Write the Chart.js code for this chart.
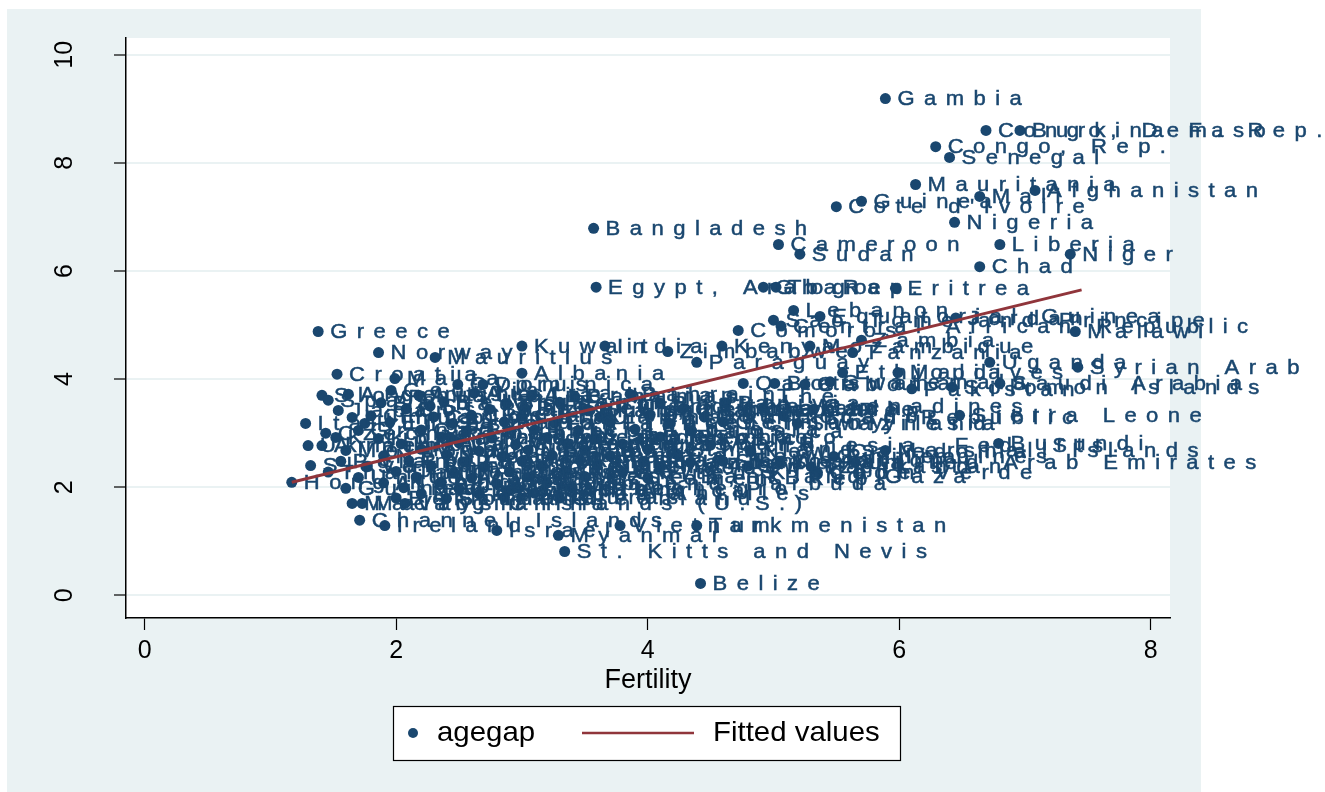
<!DOCTYPE html>
<html>
<head>
<meta charset="utf-8">
<script src="https://cdn.jsdelivr.net/npm/chart.js@4.4.1/dist/chart.umd.min.js"></script>
<style>
  html, body { margin: 0; padding: 0; background: #fff; }
</style>
</head>
<body>
<canvas id="chart" width="1325" height="792"></canvas>
<script>
// data
const countries = [
  "Gambia", "Congo, Dem. Rep.", "Burkina Faso", "Congo, Rep.", "Senegal", "Mauritania", "Afghanistan", "Mali", "Guinea", "Cote d'Ivoire",
  "Nigeria", "Bangladesh", "Cameroon", "Liberia", "Sudan", "Niger", "Chad", "Egypt, Arab Rep.", "Ghana", "Togo",
  "Eritrea", "Lebanon", "Sao Tome and Principe", "Equatorial Guinea", "Jordan", "Central African Republic", "Comoros", "Malawi", "Kenya", "Zimbabwe",
  "Kuwait", "India", "Mozambique", "Zambia", "Tanzania", "Paraguay", "Mauritius", "Norway", "Greece", "Croatia",
  "Albania", "Uganda", "Syrian Arab Republic", "Saudi Arabia", "Solomon Islands", "Ethiopia", "Maldives", "Qatar", "Botswana", "Gabon",
  "Guatemala", "Pakistan", "St. Vincent and the Grenadines", "Iran, Islamic Rep.", "Sierra Leone", "Swaziland", "Trinidad and Tobago", "Burundi", "Marshall Islands", "United Arab Emirates",
  "Cape Verde", "Uzbekistan", "Belize", "St. Kitts and Nevis", "Myanmar", "Turkmenistan", "Vietnam", "Israel", "Ireland", "Channel Islands",
  "Macao, China", "Malaysia", "South Africa", "Virgin Islands (U.S.)", "Hong Kong, China", "Italy", "Hungary", "Czech Republic", "Slovenia", "Spain",
  "Japan", "Malta", "Cyprus", "Dominica", "Georgia", "Lithuania", "Ukraine", "Armenia", "Slovakia",
  // the crowded middle
  "Argentina", "Australia", "Austria", "Azerbaijan", "Bahamas, The", "Bahrain",
  "Barbados", "Belarus", "Belgium", "Benin", "Bhutan", "Bolivia",
  "Bosnia and Herzegovina", "Brazil", "Brunei Darussalam", "Bulgaria", "Cambodia", "Canada", "Chile",
  "China", "Colombia", "Costa Rica", "Cuba", "Denmark", "Djibouti", "Dominican Republic", "Ecuador",
  "El Salvador", "Estonia", "Fiji", "Finland", "France", "French Polynesia", "Germany",
  "Grenada", "Guam", "Guyana", "Haiti", "Iceland", "Indonesia", "Jamaica",
  "Kiribati", "Korea, Rep.", "Korea, Dem. Rep.", "Kyrgyz Republic", "Lao PDR", "Latvia", "Lesotho",
  "Libya", "Luxembourg", "Macedonia, FYR", "Madagascar", "Mexico", "Micronesia, Fed. Sts.",
  "Moldova", "Mongolia", "Morocco", "Namibia", "Nepal", "Netherlands", "New Caledonia",
  "New Zealand", "Nicaragua", "Oman", "Panama", "Papua New Guinea", "Peru", "Philippines",
  "Poland", "Portugal", "Puerto Rico", "Romania", "Russian Federation", "Rwanda", "Samoa", "Serbia",
  "Seychelles", "Singapore", "Sri Lanka", "St. Lucia", "Suriname", "Sweden", "Switzerland", "Tajikistan",
  "Thailand", "Timor-Leste", "Tonga", "Tunisia", "Turkey", "United Kingdom",
  "United States", "Uruguay", "Vanuatu", "Venezuela, RB", "West Bank and Gaza", "Yemen, Rep.",
  "Algeria", "Angola", "Antigua and Barbuda", "Aruba",
  "Guinea-Bissau", "Iraq", "Kazakhstan", "Mayotte", "Montenegro",
  "Netherlands Antilles", "Palau", "Andorra",
  "Bermuda", "Somalia", "Honduras", "Greenland"
];

const fertility = [
  5.89, 6.69, 6.96, 6.29, 6.40, 6.13, 7.08, 6.64, 5.70, 5.50,
  6.44, 3.57, 5.04, 6.80, 5.21, 7.36, 6.64, 3.59, 4.92, 5.02,
  5.97, 5.16, 5.00, 5.37, 6.45, 5.06, 4.72, 7.40, 4.59, 4.16,
  3.00, 3.66, 5.29, 5.70, 5.63, 4.39, 2.31, 1.86, 1.38, 1.53,
  3.00, 6.72, 7.42, 6.80, 6.42, 5.55, 5.99, 4.76, 5.01, 5.25,
  5.45, 6.10, 2.27, 3.54, 6.48, 5.19, 2.43, 6.79, 5.89, 5.65,
  5.35, 4.34, 4.42, 3.34, 3.29, 4.39, 3.78, 2.80, 1.91, 1.71,
  1.65, 1.73, 2.89, 2.07, 1.17, 1.28, 1.75, 1.44, 1.41, 1.46,
  1.54, 1.99, 2.49, 2.69, 1.96, 1.65, 1.30, 1.41, 1.32,
  1.62, 2.18, 2.62, 3.08, 3.42, 3.86,
  1.88, 2.38, 2.88, 3.30, 4.10, 4.62,
  2.08, 2.74, 3.02, 3.52, 4.28, 4.92, 5.32,
  1.80, 2.30, 2.60, 3.00, 3.62, 4.02, 4.45, 5.08,
  1.95, 2.45, 2.86, 3.26, 3.70, 4.18, 4.60,
  1.70, 2.20, 2.56, 3.10, 3.45, 3.90, 4.35,
  1.52, 1.86, 2.36, 2.76, 3.20, 3.60, 4.10,
  2.04, 2.50, 2.95, 3.36, 3.80, 4.50,
  1.60, 2.20, 2.66, 3.05, 3.50, 4.00, 4.82,
  1.90, 2.40, 2.84, 3.24, 3.70, 4.24, 5.48,
  1.56, 2.10, 2.54, 3.00, 3.46, 3.96, 4.60, 5.05,
  1.76, 2.28, 2.70, 3.16, 3.60, 4.10, 4.80, 5.30,
  1.46, 2.00, 2.46, 2.90, 3.34, 3.80,
  1.70, 2.16, 2.60, 3.04, 3.50, 4.00,
  1.90, 2.36, 2.80, 3.20,
  1.60, 2.06, 2.50, 2.96, 3.40,
  2.20, 2.66, 3.10,
  2.00, 2.40, 2.86, 3.30
];

const agegap = [
  9.19, 8.60, 8.60, 8.30, 8.10, 7.60, 7.49, 7.38, 7.29, 7.19,
  6.90, 6.79, 6.49, 6.49, 6.31, 6.31, 6.08, 5.70, 5.70, 5.70,
  5.68, 5.27, 5.09, 5.16, 5.13, 4.98, 4.90, 4.88, 4.61, 4.51,
  4.61, 4.61, 4.61, 4.72, 4.49, 4.31, 4.40, 4.49, 4.88, 4.09,
  4.11, 4.31, 4.22, 3.92, 3.85, 4.12, 4.12, 3.92, 3.92, 3.90,
  3.95, 3.82, 3.50, 3.42, 3.33, 3.18, 2.92, 2.81, 2.68, 2.46,
  2.27, 2.46, 0.22, 0.81, 1.11, 1.29, 1.29, 1.20, 1.29, 1.39,
  1.70, 1.70, 1.94, 1.70, 2.09, 3.18, 3.18, 3.00, 3.70, 3.61,
  3.42, 4.01, 3.90, 3.90, 3.79, 3.29, 2.77, 2.77, 2.40,
  3.72, 3.70, 3.74, 3.70, 3.68, 3.72,
  3.56, 3.58, 3.55, 3.57, 3.55, 3.56,
  3.45, 3.44, 3.47, 3.43, 3.45, 3.46, 3.44,
  3.32, 3.30, 3.33, 3.31, 3.30, 3.34, 3.30, 3.32,
  3.20, 3.18, 3.21, 3.19, 3.20, 3.18, 3.21,
  3.05, 3.06, 3.04, 3.06, 3.05, 3.07, 3.04,
  2.92, 2.90, 2.93, 2.91, 2.92, 2.90, 2.93,
  2.80, 2.82, 2.79, 2.81, 2.80, 2.78,
  2.68, 2.70, 2.67, 2.69, 2.68, 2.70, 2.66,
  2.58, 2.60, 2.57, 2.59, 2.58, 2.60, 2.57,
  2.48, 2.49, 2.47, 2.48, 2.50, 2.47, 2.48, 2.46,
  2.38, 2.39, 2.37, 2.38, 2.40, 2.37, 2.39, 2.38,
  2.28, 2.29, 2.27, 2.28, 2.30, 2.27,
  2.18, 2.19, 2.17, 2.18, 2.20, 2.17,
  2.08, 2.09, 2.07, 2.08,
  1.98, 1.99, 1.97, 1.98, 1.99,
  1.88, 1.87, 1.89,
  1.80, 1.79, 1.81, 1.80
];

// fitted line ends
const fitX = [1.17, 7.45];
const fitY = [2.09, 5.65];

const seriesLabels = ["agegap", "Fitted values"];
const xTicks = [0, 2, 4, 6, 8];
const yTicks = [0, 2, 4, 6, 8, 10];

const NAVY = "#1a476f";
const RED = "#90353b";
const BG = "rgb(234,242,243)";
const FONT = '"Liberation Sans", Arial, sans-serif';

// draws text with wide letter spacing, like the stata marker labels
function spacedText(ctx, text, x, y, sx, gap, bold) {
    ctx.save();
    ctx.translate(x, y);
    ctx.scale(sx, 1);
    let cx = 0;
    for (const ch of text) {
        ctx.fillText(ch, cx, 0);
        if (bold) ctx.strokeText(ch, cx, 0);
        cx += ctx.measureText(ch).width + gap;
    }
    ctx.restore();
}

const background = {
    id: "background",
    beforeDraw(chart) {
        const { ctx, chartArea: a } = chart;
        ctx.save();
        ctx.fillStyle = "#fff";
        ctx.fillRect(0, 0, chart.width, chart.height);
        ctx.fillStyle = BG;
        ctx.fillRect(7, 9, 1194, 783);
        ctx.fillStyle = "#fff";
        ctx.fillRect(a.left, a.top, a.right - a.left, a.bottom - a.top);
        ctx.restore();
    }
};

// country names next to the dots, drawn before the fitted line
const pointLabels = {
    id: "pointLabels",
    afterDatasetDraw(chart, args) {
        if (chart.data.datasets[args.index].type !== "scatter") return;
        const ctx = chart.ctx;
        ctx.save();
        ctx.font = "21px " + FONT;
        ctx.fillStyle = NAVY;
        ctx.strokeStyle = NAVY;
        ctx.lineWidth = 0.5;
        ctx.textBaseline = "middle";
        args.meta.data.forEach((pt, i) => {
            spacedText(ctx, countries[i], pt.x + 12, pt.y + 1, 1.05, 9, true);
        });
        ctx.restore();
    }
};

const boxLegend = {
    id: "boxLegend",
    afterDraw(chart) {
        const { ctx, chartArea: a } = chart;
        const ds = chart.data.datasets;
        const w = 507, h = 54;
        const left = Math.round((a.left + a.right) / 2 - w / 2) - 2;
        const top = a.bottom + 88;
        const my = top + h / 2;
        ctx.save();
        ctx.fillStyle = "#fff";
        ctx.fillRect(left, top, w, h);
        ctx.strokeStyle = "#000";
        ctx.lineWidth = 1.2;
        ctx.strokeRect(left + 0.5, top + 0.5, w, h);

        ctx.fillStyle = NAVY;
        ctx.beginPath();
        ctx.arc(left + 20, my, 5, 0, Math.PI * 2);
        ctx.fill();

        ctx.strokeStyle = RED;
        ctx.lineWidth = 2.5;
        ctx.beginPath();
        ctx.moveTo(left + 189, my);
        ctx.lineTo(left + 301, my);
        ctx.stroke();

        ctx.fillStyle = "#000";
        ctx.font = "28px " + FONT;
        ctx.textBaseline = "middle";
        spacedText(ctx, ds[1].label, left + 44, my, 1.05, 0, false);
        spacedText(ctx, ds[0].label, left + 320, my, 1.05, 0, false);
        ctx.restore();
    }
};

const ctx = document.getElementById("chart").getContext("2d");
new Chart(ctx, {
    data: {
        datasets: [
            {
                type: "line",
                label: seriesLabels[1],
                data: fitX.map((x, i) => ({ x: x, y: fitY[i] })),
                borderColor: RED,
                borderWidth: 3,
                pointRadius: 0,
                order: 1
            },
            {
                type: "scatter",
                label: seriesLabels[0],
                data: countries.map((c, i) => ({ x: fertility[i], y: agegap[i] })),
                backgroundColor: NAVY,
                borderWidth: 0,
                pointRadius: 5.5,
                order: 2
            }
        ]
    },
    options: {
        responsive: false,
        animation: false,
        layout: { padding: { top: 38, right: 155, bottom: 84, left: 0 } },
        plugins: {
            legend: { display: false },
            tooltip: { enabled: false }
        },
        scales: {
            x: {
                type: "linear",
                min: -0.148,
                max: 8.153,
                afterBuildTicks: s => { s.ticks = xTicks.map(v => ({ value: v })); },
                afterFit: s => { s.height = 90; },
                grid: { drawOnChartArea: false, tickLength: 12, tickColor: "#000", tickWidth: 1.2 },
                border: { color: "#000", width: 1.5 },
                ticks: { color: "#000", font: { family: FONT, size: 25 }, padding: 6, maxRotation: 0 },
                title: { display: true, text: "Fertility", color: "#000", font: { family: FONT, size: 27 }, padding: { top: 0, bottom: 11 } }
            },
            y: {
                type: "linear",
                min: -0.42,
                max: 10.31,
                afterBuildTicks: s => { s.ticks = yTicks.map(v => ({ value: v })); },
                afterFit: s => { s.width = 126; s.paddingTop = 0; s.paddingBottom = 0; },
                grid: { color: BG, lineWidth: 2, tickLength: 12, tickColor: "#000", tickWidth: 1.2 },
                border: { color: "#000", width: 1.5 },
                ticks: { color: "#000", font: { family: FONT, size: 25 }, minRotation: 90, maxRotation: 90, crossAlign: "center", padding: 35 }
            }
        }
    },
    plugins: [background, pointLabels, boxLegend]
});
</script>
</body>
</html>
